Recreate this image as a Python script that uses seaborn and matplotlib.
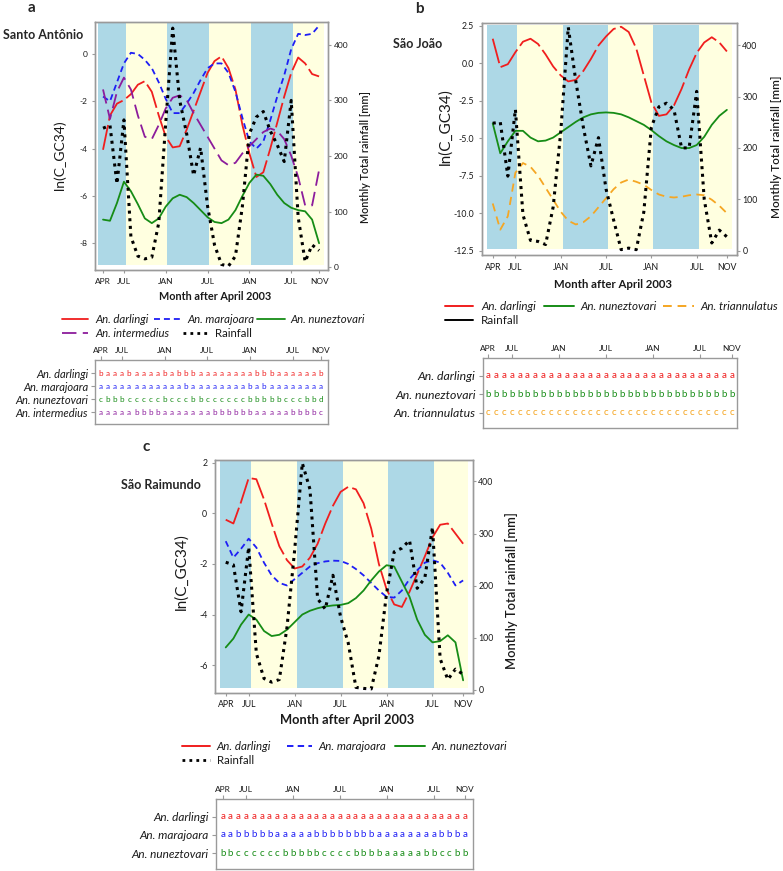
import matplotlib
matplotlib.use("Agg")
import matplotlib.pyplot as plt
import seaborn as sns

sns.set_style("white")
plt.rcParams["font.family"] = ["Lato", "DejaVu Sans"]
plt.rcParams["axes.unicode_minus"] = False

# ---------------- data ----------------
MONTHS = list(range(32))  # months after April 2003
TICK_MONTHS = [0, 3, 9, 15, 21, 27, 31]
TICK_LABELS = ["APR", "JUL", "JAN", "JUL", "JAN", "JUL", "NOV"]
SEASON_EDGES = [-0.7, 3.25, 9.25, 15.25, 21.25, 27.25, 31.7]

# Panel a - Santo Antonio
A_DARLINGI = [-4.05, -2.6, -2.1, -1.95, -1.7, -1.3, -1.15, -1.6, -2.6, -3.5, -3.95, -3.9,
              -3.2, -2.4, -1.6, -0.8, -0.3, -0.1, -0.6, -1.5, -3.0, -4.2, -5.2, -5.0,
              -4.0, -2.9, -1.8, -0.8, -0.15, -0.4, -0.85, -0.95]
A_MARAJOARA = [-1.8, -2.0, -1.2, -0.4, 0.05, 0.0, -0.25, -0.6, -1.2, -1.9, -2.5, -2.5,
               -2.1, -1.65, -1.1, -0.6, -0.4, -0.4, -0.8, -1.6, -2.7, -3.7, -4.0, -3.7,
               -2.8, -1.8, -0.9, 0.2, 0.85, 0.8, 0.85, 1.2]
A_NUNEZTOVARI = [-7.0, -7.05, -6.3, -5.4, -5.8, -6.35, -6.95, -7.15, -6.95, -6.45, -6.1, -5.95,
                 -6.05, -6.3, -6.6, -6.9, -7.1, -7.15, -7.0, -6.6, -6.0, -5.45, -5.1, -5.15,
                 -5.5, -5.95, -6.3, -6.5, -6.6, -6.65, -7.0, -8.0]
A_INTERMEDIUS = [-1.5, -2.75, -1.6, -1.0, -1.5, -2.6, -3.5, -3.6, -3.0, -2.3, -1.85, -1.75,
                 -1.95, -2.5, -3.0, -3.5, -4.0, -4.5, -4.7, -4.6, -4.2, -3.9, -3.6, -3.3,
                 -3.15, -3.25, -3.6, -4.3, -5.2, -6.4, -6.4, -4.9]
A_RAIN = [250, 255, 150, 265, 55, 20, 15, 18, 80, 260, 430, 300,
          240, 165, 215, 110, 40, 5, 2, 20, 110, 240, 270, 280,
          245, 220, 190, 300, 90, 10, 40, 30]
A_LET_DARLINGI = list("baaabaaaababbbaaaaaaaabbbaaaaaab")
A_LET_MARAJOARA = list("aaaaaaaaaaaabaaaaaaaababaaaaaaaa")
A_LET_NUNEZTOVARI = list("cbbbcccccbcccbbccccccbbbbbcccbbd")
A_LET_INTERMEDIUS = list("aaaaabbbbaaaaaaabbbbbbaaaaabbbbc")

# Panel b - Sao Joao
B_DARLINGI = [1.65, -0.25, -0.05, 0.75, 1.45, 1.65, 1.3, 0.6, -0.2, -0.8, -1.2, -1.1,
              -0.5, 0.3, 1.2, 1.8, 2.3, 2.45, 2.1, 1.0, -0.8, -2.6, -3.5, -3.4,
              -2.8, -1.7, -0.4, 0.7, 1.4, 1.75, 1.4, 0.8]
B_NUNEZTOVARI = [-4.0, -6.0, -5.2, -4.5, -4.5, -4.95, -5.2, -5.15, -4.95, -4.6, -4.25, -3.9,
                 -3.6, -3.4, -3.3, -3.27, -3.3, -3.4, -3.6, -3.85, -4.1, -4.45, -4.85, -5.2,
                 -5.45, -5.65, -5.65, -5.45, -4.9, -4.1, -3.5, -3.1]
B_TRIANNULATUS = [-9.35, -11.1, -10.2, -7.3, -6.65, -6.9, -7.5, -8.3, -9.1, -9.9, -10.5, -10.75,
                  -10.6, -10.2, -9.6, -9.0, -8.4, -7.95, -7.75, -7.9, -8.1, -8.45, -8.75, -8.9,
                  -8.95, -8.9, -8.8, -8.75, -8.8, -9.1, -9.5, -10.0]
B_RAIN = [248, 250, 145, 275, 70, 20, 18, 12, 85, 230, 435, 330,
          240, 165, 220, 120, 60, 2, 5, 2, 75, 240, 280, 287,
          274, 200, 200, 310, 100, 15, 40, 27]
B_LET_DARLINGI = list("a" * 32)
B_LET_NUNEZTOVARI = list("b" * 32)
B_LET_TRIANNULATUS = list("c" * 32)

# Panel c - Sao Raimundo
C_DARLINGI = [-0.25, -0.4, 0.45, 1.4, 1.35, 0.55, -0.4, -1.3, -1.85, -2.18, -2.1, -1.75,
              -1.2, -0.4, 0.3, 0.85, 1.05, 0.95, 0.4, -0.6, -2.0, -3.0, -3.6, -3.7,
              -3.1, -2.4, -1.7, -0.95, -0.45, -0.4, -0.8, -1.2]
C_MARAJOARA = [-1.1, -1.75, -1.4, -1.0, -1.35, -1.95, -2.45, -2.75, -2.85, -2.6, -2.35, -2.1,
               -1.97, -1.9, -1.87, -1.88, -2.0, -2.2, -2.45, -2.75, -3.05, -3.3, -3.33, -3.05,
               -2.6, -2.25, -1.95, -1.85, -1.95, -2.35, -2.85, -2.65]
C_NUNEZTOVARI = [-5.3, -4.95, -4.4, -4.0, -4.2, -4.65, -4.85, -4.8, -4.6, -4.3, -4.0, -3.85,
                 -3.75, -3.68, -3.64, -3.62, -3.55, -3.35, -3.05, -2.65, -2.3, -2.05, -2.1, -2.7,
                 -3.3, -4.2, -4.8, -5.1, -5.05, -4.82, -5.1, -6.6]
C_RAIN = [245, 240, 150, 274, 70, 22, 15, 20, 120, 268, 435, 385,
          175, 155, 220, 140, 90, 5, 3, 2, 65, 185, 265, 272,
          287, 195, 215, 312, 60, 20, 40, 30]
C_LET_DARLINGI = list("a" * 32)
C_LET_MARAJOARA = list("aabbbbbaaaaabbbbbbbbaaaaaaaabbba")
C_LET_NUNEZTOVARI = list("bbccccccbbbbbccccbbbbaaaaabbccbb")

# ---------------- styles ----------------
RED = "#F01E1E"
BLUE = "#1E1EF5"
GREEN = "#168C16"
PURPLE = "#8C1C9C"
ORANGE = "#F5A623"
BAND_COLORS = ["#ADD8E6", "#FFFFE0"]
FRAME = "#9a9a9a"
TXT = "#1a1a1a"

LS_DARL = (0, (14, 2.5))
LS_MARA = (0, (3.3, 2.2))
LS_INTER = (0, (8, 3.5))
LS_TRI = (0, (4.5, 3))
LS_RAIN = (0, (1, 1.5))

W, H = 783, 871
fig = plt.figure(figsize=(W / 100, H / 100), dpi=100)


def px_rect(x0, y0, x1, y1):
    return [x0 / W, 1 - y1 / H, (x1 - x0) / W, (y1 - y0) / H]


def style_spines(ax):
    for s in ax.spines.values():
        s.set_color(FRAME)
        s.set_linewidth(1.0)


def main_panel(rect, xlim, ylim, rlim, yticks, yticklabels, band_y, series, rain,
               ylab_pos, rlab_pos, xlab_pos, ylab_fs, rlab_fs, xlab_fs, tick_fs):
    ax = fig.add_axes(px_rect(*rect))
    for i in range(len(SEASON_EDGES) - 1):
        ax.axvspan(SEASON_EDGES[i], SEASON_EDGES[i + 1], ymin=band_y[0], ymax=band_y[1],
                   color=BAND_COLORS[i % 2], lw=0, zorder=0)
    for vals, color, ls in series:
        sns.lineplot(x=MONTHS, y=vals, ax=ax, color=color, linestyle=ls, lw=1.3)
    ax.set_xlim(*xlim)
    ax.set_ylim(*ylim)
    ax.set_yticks(yticks)
    ax.set_yticklabels(yticklabels)
    ax.set_xticks(TICK_MONTHS)
    ax.set_xticklabels(TICK_LABELS)
    ax.set_xlabel("")
    ax.set_ylabel("")
    ax.tick_params(axis="both", which="both", length=2.5, width=0.8, color=FRAME,
                   labelsize=tick_fs, labelcolor=TXT, pad=3, left=True, bottom=True)
    style_spines(ax)

    axr = ax.twinx()
    sns.lineplot(x=MONTHS, y=rain, ax=axr, color="black", linestyle=LS_RAIN, lw=2.2)
    axr.set_ylim(*rlim)
    axr.set_yticks([0, 100, 200, 300, 400])
    axr.set_ylabel("")
    axr.tick_params(axis="y", length=2.5, width=0.8, color=FRAME, labelsize=tick_fs,
                    labelcolor=TXT, pad=1.5, right=True)
    style_spines(axr)

    ax.text(ylab_pos[0], ylab_pos[1], "ln(C_GC34)", transform=ax.transAxes, rotation=90,
            ha="center", va="center", fontsize=ylab_fs, color=TXT)
    ax.text(rlab_pos[0], rlab_pos[1], "Monthly Total rainfall [mm]", transform=ax.transAxes,
            rotation=90, ha="center", va="center", fontsize=rlab_fs, color=TXT,
            fontweight="semibold")
    ax.text(xlab_pos[0], xlab_pos[1], "Month after April 2003", transform=ax.transAxes,
            ha="center", va="center", fontsize=xlab_fs, fontweight="bold", color=TXT)
    return ax


def strip_panel(rect, xlim, ylim, rows, label_fs, letter_fs):
    ax = fig.add_axes(px_rect(*rect))
    n = len(rows)
    for i, (label, letters, color) in enumerate(rows):
        yv = n - i
        for m, ch in zip(MONTHS, letters):
            ax.text(m, yv, ch, color=color, ha="center", va="center", fontsize=letter_fs)
    ax.set_xlim(*xlim)
    ax.set_ylim(*ylim)
    ax.set_yticks([n - i for i in range(n)])
    ax.set_yticklabels([r[0] for r in rows], fontstyle="italic", fontsize=label_fs)
    ax.xaxis.tick_top()
    ax.set_xticks(TICK_MONTHS)
    ax.set_xticklabels(TICK_LABELS)
    ax.tick_params(axis="x", length=3, width=0.8, color=FRAME, labelsize=6,
                   labelcolor=TXT, pad=1.5, top=True, bottom=False)
    ax.tick_params(axis="y", length=3, width=0.8, color=FRAME, labelcolor=TXT,
                   pad=2, left=True)
    style_spines(ax)
    return ax


# ---------------- panel a ----------------
main_panel((95, 22, 328, 270), (-1.15, 32.28), (-9.13, 1.35), (-5, 441),
           [0, -2, -4, -6, -8], ["0", "-2", "-4", "-6", "-8"], (0.02, 1.0),
           [(A_DARLINGI, RED, LS_DARL), (A_MARAJOARA, BLUE, LS_MARA),
            (A_NUNEZTOVARI, GREEN, "-"), (A_INTERMEDIUS, PURPLE, LS_INTER)],
           A_RAIN, (-0.15, 0.464), (1.159, 0.456), (0.515, -0.105), 10, 7.8, 7.8, 6)

strip_panel((95, 360, 328, 424), (-0.8, 31.98), (0.077, 5.0),
            [("An. darlingi", A_LET_DARLINGI, RED), ("An. marajoara", A_LET_MARAJOARA, BLUE),
             ("An. nuneztovari", A_LET_NUNEZTOVARI, GREEN),
             ("An. intermedius", A_LET_INTERMEDIUS, PURPLE)], 8, 5.8)

# ---------------- panel b ----------------
main_panel((481.7, 22.7, 736.7, 255), (-1.46, 32.3), (-12.79, 2.72), (-8.4, 443.6),
           [2.5, 0, -2.5, -5, -7.5, -10, -12.5],
           ["2.5", "0.0", "-2.5", "-5.0", "-7.5", "-10.0", "-12.5"], (0.025, 0.99),
           [(B_DARLINGI, RED, LS_DARL), (B_NUNEZTOVARI, GREEN, "-"),
            (B_TRIANNULATUS, ORANGE, LS_TRI)],
           B_RAIN, (-0.144, 0.551), (1.158, 0.465), (0.515, -0.125), 11, 8.5, 8.2, 6.3)

strip_panel((482.7, 358.3, 737.3, 428.3), (-0.71, 31.72), (0.15, 3.96),
            [("An. darlingi", B_LET_DARLINGI, RED), ("An. nuneztovari", B_LET_NUNEZTOVARI, GREEN),
             ("An. triannulatus", B_LET_TRIANNULATUS, ORANGE)], 8.8, 7)

# ---------------- panel c ----------------
main_panel((215, 459.5, 472.7, 692.7), (-1.4, 32.25), (-7.09, 2.13), (-5.2, 442),
           [2, 0, -2, -4, -6], ["2", "0", "-2", "-4", "-6"], (0.019, 1.0),
           [(C_DARLINGI, RED, LS_DARL), (C_MARAJOARA, BLUE, LS_MARA),
            (C_NUNEZTOVARI, GREEN, "-")],
           C_RAIN, (-0.132, 0.518), (1.151, 0.44), (0.511, -0.117), 11, 9.3, 9.3, 6.3)

strip_panel((215.7, 799.3, 472.7, 869.3), (-0.9, 31.99), (0.126, 3.95),
            [("An. darlingi", C_LET_DARLINGI, RED), ("An. marajoara", C_LET_MARAJOARA, BLUE),
             ("An. nuneztovari", C_LET_NUNEZTOVARI, GREEN)], 8.5, 7)

# ---------------- overlay: titles & legends ----------------
ov = fig.add_axes([0, 0, 1, 1], zorder=10)
ov.set_xlim(0, W)
ov.set_ylim(H, 0)
ov.axis("off")
ov.patch.set_alpha(0)

ov.text(31, 8, "a", fontsize=11, fontweight="bold", ha="center", va="center")
ov.text(419, 9, "b", fontsize=11, fontweight="bold", ha="center", va="center")
ov.text(146, 447, "c", fontsize=11, fontweight="bold", ha="center", va="center")
ov.text(3, 35, "Santo Antônio", fontsize=9, fontweight="bold", ha="left", va="center")
ov.text(393, 44, "São João", fontsize=9, fontweight="bold", ha="left", va="center")
ov.text(201, 485, "São Raimundo", fontsize=9, fontweight="bold", ha="right", va="center")


def leg(x0, x1, y, color, ls, lw, text, tx, fs, italic=True):
    ov.plot([x0, x1], [y, y], color=color, linestyle=ls, lw=lw)
    ov.text(tx, y, text, fontsize=fs, fontstyle="italic" if italic else "normal",
            ha="left", va="center", color=TXT)


# legend a
leg(62, 88, 319, RED, "-", 1.3, "An. darlingi", 95, 8.2)
leg(154, 180, 319, BLUE, LS_MARA, 1.3, "An. marajoara", 187, 8.2)
leg(257, 285, 319, GREEN, "-", 1.3, "An. nuneztovari", 290, 8.2)
leg(62, 88, 333, PURPLE, LS_INTER, 1.3, "An. intermedius", 95, 8.2)
leg(183, 209, 333, "black", LS_RAIN, 2.0, "Rainfall", 215, 8.2, italic=False)

# legend b
leg(445, 473, 306, RED, "-", 1.4, "An. darlingi", 481, 8.4)
leg(544, 574, 306, GREEN, "-", 1.4, "An. nuneztovari", 580, 8.4)
leg(663, 694, 306, ORANGE, LS_TRI, 1.4, "An. triannulatus", 700, 8.4)
leg(445, 473, 320, "black", "-", 1.4, "Rainfall", 481, 8.4, italic=False)

# legend c
leg(181.7, 210, 746, RED, "-", 1.4, "An. darlingi", 216.7, 8.3)
leg(286.7, 311.7, 746, BLUE, LS_MARA, 1.4, "An. marajoara", 318, 8.3)
leg(395, 425, 746, GREEN, "-", 1.4, "An. nuneztovari", 431.7, 8.3)
leg(181.7, 210, 760, "black", LS_RAIN, 2.0, "Rainfall", 216.7, 8.3, italic=False)

fig.savefig("out.png", dpi=100)
